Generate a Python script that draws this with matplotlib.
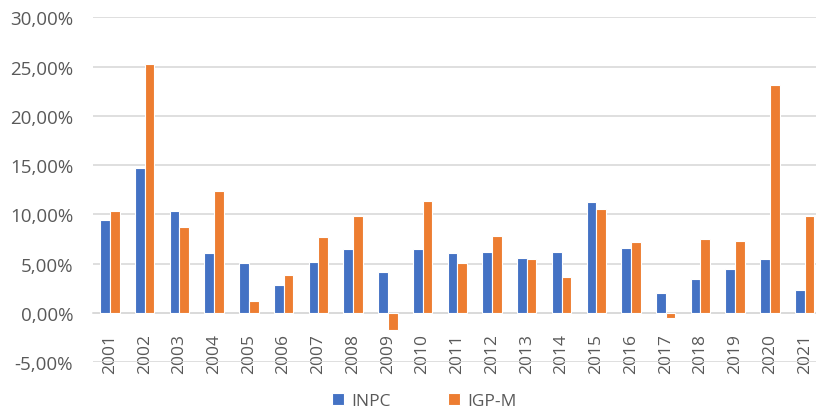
import matplotlib
matplotlib.use("Agg")
import matplotlib.pyplot as plt
from matplotlib.ticker import FuncFormatter
import numpy as np

years = [str(y) for y in range(2001, 2022)]
inpc = [9.44, 14.74, 10.38, 6.13, 5.05, 2.81, 5.16, 6.48, 4.11, 6.47, 6.08,
        6.20, 5.56, 6.23, 11.28, 6.58, 2.07, 3.43, 4.48, 5.45, 2.30]
igpm = [10.38, 25.31, 8.71, 12.41, 1.21, 3.85, 7.75, 9.81, -1.71, 11.32, 5.10,
        7.82, 5.51, 3.69, 10.54, 7.17, -0.52, 7.54, 7.30, 23.14, 9.87]
series_names = ["INPC", "IGP-M"]
y_ticks = [-5, 0, 5, 10, 15, 20, 25, 30]

BLUE = "#4472C4"
ORANGE = "#ED7D31"
TEXT = "#595959"
GRID = "#D9D9D9"

plt.rcParams["font.family"] = ["Open Sans", "DejaVu Sans"]

fig = plt.figure(figsize=(8.16, 4.10), dpi=100)
ax = fig.add_axes([0.1134, 0.1139, 0.8940, 0.8415])

x = np.arange(len(years))
w = 0.28
ax.bar(x - w / 2, inpc, width=w, color=BLUE, edgecolor="white", linewidth=0.8,
       label=series_names[0], zorder=3)
ax.bar(x + w / 2, igpm, width=w, color=ORANGE, edgecolor="white", linewidth=0.8,
       label=series_names[1], zorder=3)

ax.set_xlim(-0.5, len(years) - 0.5)
ax.set_ylim(-5, 30)
ax.set_yticks(y_ticks)
ax.yaxis.set_major_formatter(FuncFormatter(lambda v, _: f"{v:.2f}%".replace(".", ",")))
ax.grid(axis="y", color=GRID, linewidth=1.2, zorder=0)
ax.set_axisbelow(True)

for s in ["top", "right", "left"]:
    ax.spines[s].set_visible(False)
ax.spines["bottom"].set_position(("data", 0))
ax.spines["bottom"].set_color(GRID)
ax.spines["bottom"].set_linewidth(1.2)

ax.set_xticks(x)
ax.set_xticklabels(years, rotation=90)
ax.tick_params(axis="x", length=0, pad=14.5, labelsize=12.5, labelcolor=TEXT)
ax.tick_params(axis="y", length=0, pad=14, labelsize=13.5, labelcolor=TEXT)

fig.legend(loc="center", bbox_to_anchor=(0.52, 0.02), ncol=2, frameon=False,
           fontsize=12.5, labelcolor=TEXT, handlelength=0.7, handleheight=0.7,
           handletextpad=0.4, columnspacing=3.3)

fig.savefig("out.png", dpi=100)
